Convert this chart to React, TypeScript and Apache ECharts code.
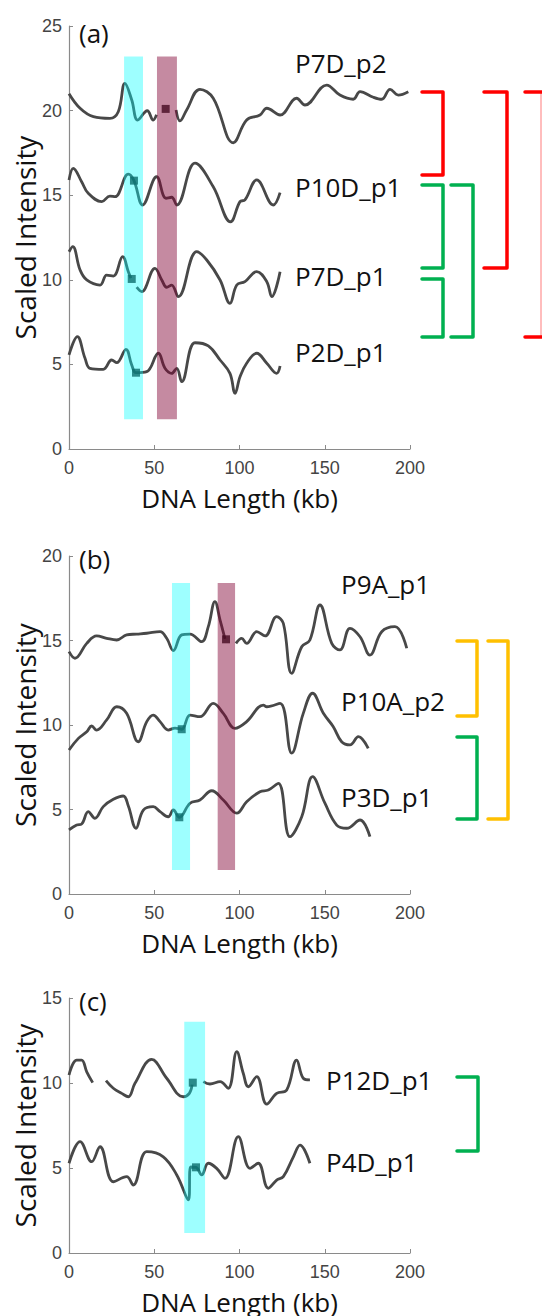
import React, { useEffect, useRef } from "react";
import * as echarts from "echarts";

// ---------- data (kb, scaled intensity); null = gap in the trace ----------
const P7D_p2 = [[0,21.0],[6.5,20.14],[14.3,19.64],[24,19.54],[28.9,19.93],[32.8,21.61],[36.8,20.63],[40.3,19.44],[45.9,19.99],[49.4,19.44],[51.3,19.75],null,[62.8,20.04],[65.1,19.39],[69,20.04],[76.8,21.26],[84.6,20.73],[96.4,18.1],[104.2,19.44],[112,19.74],[116,20.14],[123.8,19.74],[133.5,20.73],[138.4,20.33],[151.1,21.51],[158.9,20.92],[166.7,20.67],[170.7,21.12],[178.5,20.79],[183.4,20.67],[188.3,21.26],[193.1,20.92],[199,21.12]];
const P10D_p1 = [[0,15.9],[2.5,16.59],[7.4,15.8],[11.3,15.11],[19.2,14.62],[24,14.95],[27,14.91],[34.8,16.24],[38.1,15.86],[43.2,14.42],[51.4,16.09],[56.9,14.82],[60.2,14.88],[63.2,14.42],[73.9,16.89],[84.6,15.5],[94.8,13.43],[100.3,14.62],[103.2,14.72],[110.1,15.9],[119.8,14.42],[123.8,15.15]];
const P7D_p1 = [[0,11.66],[2.2,11.96],[6.5,10.58],[10.4,9.99],[18.2,9.69],[22.1,10.28],[26,10.22],[31.5,11.37],[34.8,10.48],[36.3,10.1],null,[39.7,9.56],[42.6,9.3],[50.4,10.68],[54.4,9.99],[57.3,9.56],[60.2,9.69],[64.1,9.0],[74.9,11.66],[80.8,11.17],[88.6,9.99],[94.4,8.61],[98.4,9.69],[103.2,9.89],[110.1,10.48],[116,9.89],[118.9,9.0],[123.8,10.48]];
const P2D_p1 = [[0,5.56],[4.9,6.64],[9.4,5.36],[12.3,4.77],[20.1,4.71],[25,5.26],[28,5.1],[33.4,5.89],[36.8,4.96],[39.3,4.51],[45.6,4.57],[52.4,5.66],[56.3,4.77],[60.2,4.47],[63.2,4.77],[66.1,3.98],[73.9,6.28],[81.7,6.09],[88.6,5.26],[94.4,4.47],[97.4,3.29],[100.3,4.27],[104.2,5.07],[110.1,5.66],[116,5.07],[121.8,4.47],[123.8,4.9]];

const P9A_p1 = [[0,14.34],[3.5,13.95],[10.4,14.83],[16.2,15.27],[22.1,15.13],[28,15.03],[33.8,15.33],[39.7,15.38],[45.6,15.43],[53.4,15.52],[57.3,15.13],[61.2,14.4],[66.1,15.33],[71,15.38],[77.8,14.93],[81.7,15.82],[85.6,17.3],[88.6,16.21],[91.5,15.1],null,[97.9,14.83],[101.3,15.13],[104.2,14.83],[110.1,15.52],[115,15.27],[121.8,16.41],[125.7,16.02],[130.6,13.06],[136.5,14.63],[141.3,15.03],[147.2,17.1],[154.1,14.83],[158.9,14.44],[164.8,15.72],[170.7,15.22],[176.5,14.14],[183.4,15.52],[191.2,15.82],[198.1,14.54]];
const P10A_p2 = [[0,8.52],[5.5,9.21],[10.4,9.6],[13.3,9.94],[16.2,9.7],[22.1,10.3],[28,11.08],[33.8,10.69],[40.6,9.01],[45.6,10.2],[49.4,10.59],[53.4,10.2],[58.2,9.7],[62.2,9.82],[66.1,9.75],[71,10.59],[76.8,10.49],[84.6,11.28],[90.5,10.69],[97.4,9.8],[104.2,10.2],[114,11.18],[116,11.08],[123.8,11.28],[130.6,8.33],[137.4,10.69],[142.9,11.88],[149.2,10.69],[155,9.9],[159.9,9.01],[164.8,8.82],[169.7,9.31],[175.5,8.62]];
const P3D_p1 = [[0,3.79],[4.5,4.08],[7.4,4.14],[11.3,4.87],[15.2,4.48],[20.1,5.17],[26,5.6],[31.8,5.8],[34.8,5.21],[39.3,3.89],[43.6,4.97],[49.4,5.17],[53.4,4.87],[58.2,4.57],[61.2,4.97],[64.7,4.54],[71,5.37],[76.8,5.56],[83.7,6.11],[90.5,5.56],[98.4,4.78],[104.2,5.46],[112,6.05],[116.9,6.15],[122.8,6.55],[129.6,3.39],[136.5,4.57],[142.9,6.94],[150.1,5.37],[157,4.08],[162.9,3.89],[170.7,4.38],[176.5,3.39]];

const P12D_p1 = [[0,10.47],[4.5,11.35],[7.4,11.35],[10.4,10.66],[13.9,10.02],null,[21.7,10.14],[26,9.69],[30.9,9.39],[34.8,9.19],[38.7,9.98],[48.5,11.39],[57.3,10.28],[67,9.19],[70.6,9.39],[72.2,9.9],null,[78.8,10.08],[82.7,9.94],[88.6,10.08],[93.4,9.69],[98.4,11.84],[102.2,10.57],[105.2,9.78],[110.1,10.37],[116,8.76],[121.8,9.39],[127.7,9.59],[133.5,11.35],[137.4,10.28],[141.3,10.18]];
const P4D_p1 = [[0,5.28],[6.5,6.55],[13.3,5.37],[18.2,6.25],[26,4.19],[33.8,4.49],[37.7,4.0],[45.6,5.96],[55.3,5.66],[63.2,4.59],[70,3.12],[71.4,5.06],[74.5,5.04],[77.8,4.59],[81.7,5.28],[86.6,4.98],[91.5,4.39],[99.3,6.84],[106.2,4.98],[111,5.28],[116.9,3.81],[121.8,4.29],[125.7,4.49],[131.6,5.66],[135.5,6.35],[141.3,5.28]];

// square markers
const markersA = [[56.7,20.1],[38.1,15.86],[36.8,10.05],[39.3,4.51]];
const markersB = [[92.1,15.07],[66.1,9.75],[64.7,4.54]];
const markersC = [[72.6,10.02],[74.5,5.04]];

// highlight bands: [x0, x1, y0, y1, kind] kind 0 = cyan, 1 = mauve
const bandsA = [[32.3,43.4,1.76,23.2,0],[51.6,63.3,1.76,23.2,1]];
const bandsB = [[60.4,71,1.42,18.4,0],[87.2,97.4,1.42,18.4,1]];
const bandsC = [[67.6,79.8,1.18,13.6,0]];

const xTicks = [0, 50, 100, 150, 200];
const yMax = [25, 20, 15];
const panelLetters = ["(a)", "(b)", "(c)"];

const namesA = ["P7D_p2", "P10D_p1", "P7D_p1", "P2D_p1"];
const namesB = ["P9A_p1", "P10A_p2", "P3D_p1"];
const namesC = ["P12D_p1", "P4D_p1"];

// ---------- layout ----------
const GRIDS = [
  { left: 69, top: 26, width: 341, height: 423 },
  { left: 69, top: 556, width: 341, height: 338 },
  { left: 69, top: 998, width: 341, height: 255 },
];
const LETTER_Y = [33, 559, 1001];
const NAME_POS = [
  [[295, 63], [295, 187], [295, 276], [295, 352]],
  [[341, 584], [341, 701], [341, 797]],
  [[326, 1080], [326, 1162]],
];
const RED = "#ff0000", GREEN = "#00b050", YELLOW = "#ffc000";
const BRACKETS: [string, number, number, number, number][] = [
  [RED, 422, 443, 92, 175],
  [GREEN, 422, 443, 185, 268],
  [GREEN, 422, 443, 279, 337],
  [GREEN, 451, 473, 185, 337],
  [RED, 484, 507, 92, 268],
  [YELLOW, 457, 477, 641, 716],
  [GREEN, 457, 477, 737, 819],
  [YELLOW, 488, 508, 641, 819],
  [GREEN, 457, 478, 1077, 1151],
];

const LINE_COLOR = "#484848";
const BAND_COLORS = ["rgba(0,255,255,0.38)", "rgba(128,0,50,0.46)"];
const AXIS_COLOR = "#8a8a8a";
const TEXT_FONT = "Open Sans";

function splitSegments(pts: any[]) {
  const segs: number[][][] = [];
  let cur: number[][] = [];
  for (const p of pts) {
    if (p === null) {
      if (cur.length) segs.push(cur);
      cur = [];
    } else cur.push(p);
  }
  if (cur.length) segs.push(cur);
  return segs;
}

export default function App() {
  const ref = useRef<HTMLDivElement>(null);
  useEffect(() => {
    document.body.style.margin = "0";
    if (!ref.current) return;
    const chart = echarts.init(ref.current, null, { renderer: "svg" });

    const panels = [
      { curves: [P7D_p2, P10D_p1, P7D_p1, P2D_p1], markers: markersA, bands: bandsA },
      { curves: [P9A_p1, P10A_p2, P3D_p1], markers: markersB, bands: bandsB },
      { curves: [P12D_p1, P4D_p1], markers: markersC, bands: bandsC },
    ];

    const series: any[] = [];
    panels.forEach((pn, gi) => {
      pn.curves.forEach((c) => {
        splitSegments(c).forEach((seg) => {
          series.push({
            type: "line",
            xAxisIndex: gi,
            yAxisIndex: gi,
            data: seg,
            smooth: 0.4,
            showSymbol: false,
            silent: true,
            lineStyle: { color: LINE_COLOR, width: 2.8 },
            z: 2,
          });
        });
      });
      series.push({
        type: "scatter",
        xAxisIndex: gi,
        yAxisIndex: gi,
        data: pn.markers,
        symbol: "rect",
        symbolSize: 8,
        itemStyle: { color: "#151515" },
        z: 3,
      });
      series.push({
        type: "custom",
        xAxisIndex: gi,
        yAxisIndex: gi,
        data: pn.bands,
        encode: { x: [0, 1], y: [2, 3] },
        z: 4,
        renderItem: (params: any, api: any) => {
          const p0 = api.coord([api.value(0), api.value(3)]);
          const p1 = api.coord([api.value(1), api.value(2)]);
          return {
            type: "rect",
            shape: { x: p0[0], y: p0[1], width: p1[0] - p0[0], height: p1[1] - p0[1] },
            style: { fill: BAND_COLORS[api.value(4)] },
          };
        },
      });
    });

    const graphic: any[] = [];
    GRIDS.forEach((g, i) => {
      graphic.push({
        type: "text",
        left: undefined,
        x: g.left + 10,
        y: LETTER_Y[i],
        style: { text: panelLetters[i], font: `26px '${TEXT_FONT}'`, fill: "#111", textVerticalAlign: "middle" },
      });
      graphic.push({
        type: "text",
        x: g.left + g.width / 2,
        y: g.top + g.height + 49,
        style: { text: "DNA Length (kb)", font: `26px '${TEXT_FONT}'`, fill: "#111", textAlign: "center", textVerticalAlign: "middle" },
      });
      graphic.push({
        type: "text",
        x: 25,
        y: g.top + g.height / 2,
        rotation: Math.PI / 2,
        style: { text: "Scaled Intensity", font: `28px '${TEXT_FONT}'`, fill: "#111", textAlign: "center", textVerticalAlign: "middle" },
      });
    });
    [namesA, namesB, namesC].forEach((names, pi) => {
      names.forEach((n, k) => {
        const [x, y] = NAME_POS[pi][k];
        graphic.push({
          type: "text",
          x,
          y,
          style: { text: n, font: `26px '${TEXT_FONT}'`, fill: "#111", textVerticalAlign: "middle" },
        });
      });
    });
    BRACKETS.forEach(([color, x0, x1, y0, y1]) => {
      graphic.push({
        type: "polyline",
        shape: { points: [[x0, y0], [x1, y0], [x1, y1], [x0, y1]] },
        style: { stroke: color, lineWidth: 3.5, fill: null, lineJoin: "round", lineCap: "round" },
      });
    });
    // outermost red bracket, partly cut off at the right edge
    graphic.push({
      type: "polyline",
      shape: { points: [[525, 92], [542, 92]] },
      style: { stroke: RED, lineWidth: 3.5, lineCap: "round" },
    });
    graphic.push({
      type: "polyline",
      shape: { points: [[525, 337], [542, 337]] },
      style: { stroke: RED, lineWidth: 3.5, lineCap: "round" },
    });
    graphic.push({
      type: "line",
      shape: { x1: 541, y1: 92, x2: 541, y2: 337 },
      style: { stroke: "rgba(255,0,0,0.35)", lineWidth: 1.5 },
    });

    const option: any = {
      animation: false,
      backgroundColor: "#ffffff",
      grid: GRIDS.map((g) => ({ ...g, containLabel: false })),
      xAxis: GRIDS.map((_, i) => ({
        gridIndex: i,
        type: "value",
        min: xTicks[0],
        max: xTicks[xTicks.length - 1],
        interval: xTicks[1] - xTicks[0],
        axisLine: { show: true, lineStyle: { color: AXIS_COLOR, width: 1.2 } },
        axisTick: { show: true, inside: true, length: 4, lineStyle: { color: AXIS_COLOR } },
        axisLabel: { color: "#444", fontSize: 18, fontFamily: "Liberation Sans", margin: 10 },
        splitLine: { show: false },
      })),
      yAxis: GRIDS.map((_, i) => ({
        gridIndex: i,
        type: "value",
        min: 0,
        max: yMax[i],
        interval: 5,
        axisLine: { show: true, lineStyle: { color: AXIS_COLOR, width: 1.2 } },
        axisTick: { show: true, inside: true, length: 4, lineStyle: { color: AXIS_COLOR } },
        axisLabel: { color: "#444", fontSize: 18, fontFamily: "Liberation Sans", margin: 7 },
        splitLine: { show: false },
      })),
      series,
      graphic,
    };
    chart.setOption(option);
    return () => chart.dispose();
  }, []);
  return <div ref={ref} style={{ width: 542, height: 1316 }} />;
}
